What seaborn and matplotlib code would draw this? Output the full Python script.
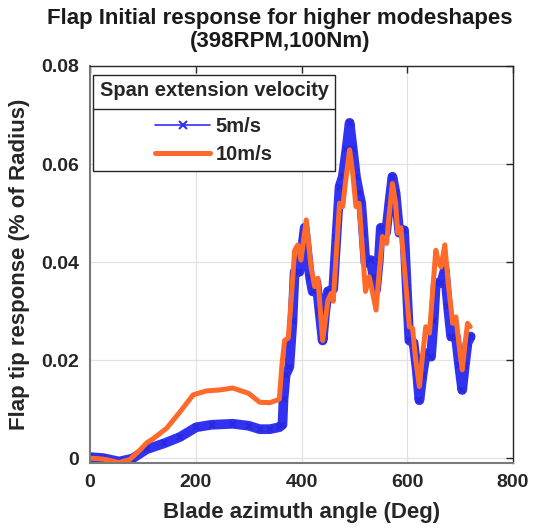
import matplotlib
matplotlib.use("Agg")
import matplotlib.pyplot as plt
from matplotlib.lines import Line2D
import seaborn as sns
import pandas as pd

# ---- data ----
deg_5 = [0, 25, 55, 80, 107, 140, 170, 201, 230, 270, 300, 321, 340, 358, 364,
         366, 370, 377, 383, 387, 396, 406, 416, 421, 428, 434, 440, 445, 450, 460,
         466, 472, 478, 485, 491, 497, 503, 509, 513, 517, 521, 531, 536, 541, 546,
         550, 560, 566, 572, 578, 585, 594, 599, 604, 612, 618, 623, 629, 635, 645,
         650, 654, 664, 671, 677, 683, 692, 698, 704, 709, 714, 720]
resp_5 = [0.0002, 0.0000, -0.0007, -0.0001, 0.0018, 0.0030, 0.0043, 0.0063, 0.0068, 0.0070,
          0.0066, 0.0059, 0.0059, 0.0063, 0.0068,
          0.0120, 0.0170, 0.0186, 0.0280, 0.0380, 0.0380, 0.0470, 0.0370, 0.0340, 0.0360,
          0.0300, 0.0240, 0.0300, 0.0340, 0.0345,
          0.0450, 0.0554, 0.0574, 0.0630, 0.0684, 0.0630, 0.0574, 0.0540, 0.0520, 0.0460,
          0.0398, 0.0404, 0.0370, 0.0343, 0.0400,
          0.0470, 0.0460, 0.0520, 0.0574, 0.0540, 0.0460, 0.0465, 0.0350, 0.0240, 0.0235,
          0.0180, 0.0118, 0.0170, 0.0214, 0.0207,
          0.0280, 0.0357, 0.0357, 0.0384, 0.0310, 0.0248, 0.0248, 0.0190, 0.0139, 0.0190,
          0.0235, 0.0248]

deg_10 = [0, 25, 55, 75, 94, 107, 120, 145, 170, 195, 220, 245, 270, 300, 321, 340, 358,
          363, 368, 375, 381, 387, 393, 399, 409, 418, 425, 431, 440, 450, 456, 460,
          466, 472, 478, 484, 491, 497, 503, 509, 515, 521, 528, 534, 541, 547, 553,
          561, 566, 572, 578, 582, 588, 596, 604, 610, 616, 623, 629, 635, 642, 648,
          654, 659, 664, 671, 678, 686, 692, 698, 704, 709, 714, 719]
resp_10 = [0.0000, -0.0002, -0.0009, -0.0003, 0.0016, 0.0031, 0.0040, 0.0061, 0.0094, 0.0129,
           0.0137, 0.0139, 0.0143, 0.0132, 0.0114, 0.0113, 0.0120,
           0.0190, 0.0240, 0.0245, 0.0330, 0.0424, 0.0435, 0.0404, 0.0486, 0.0390, 0.0350,
           0.0367, 0.0240, 0.0322, 0.0336, 0.0320,
           0.0420, 0.0520, 0.0513, 0.0570, 0.0629, 0.0580, 0.0513, 0.0520, 0.0430, 0.0340,
           0.0370, 0.0340, 0.0302, 0.0380, 0.0452,
           0.0438, 0.0500, 0.0560, 0.0520, 0.0459, 0.0470, 0.0370, 0.0268, 0.0265, 0.0200,
           0.0146, 0.0210, 0.0268, 0.0255, 0.0340,
           0.0424, 0.0400, 0.0390, 0.0435, 0.0350, 0.0275, 0.0288, 0.0230, 0.0180, 0.0230,
           0.0275, 0.0268]

series_labels = ["5m/s", "10m/s"]
legend_title = "Span extension velocity"
title_lines = "Flap Initial response for higher modeshapes\n(398RPM,100Nm)"
x_label = "Blade azimuth angle (Deg)"
y_label = "Flap tip response (% of Radius)"
x_ticks = [0, 200, 400, 600, 800]
y_ticks = [0, 0.02, 0.04, 0.06, 0.08]
y_tick_labels = ["0", "0.02", "0.04", "0.06", "0.08"]

BLUE = "#3232F0"
ORANGE = "#FF6A2A"

df5 = pd.DataFrame({"deg": deg_5, "resp": resp_5, "v": series_labels[0]})
df10 = pd.DataFrame({"deg": deg_10, "resp": resp_10, "v": series_labels[1]})

sns.set_theme(style="white")
plt.rcParams["font.family"] = ["Liberation Sans", "DejaVu Sans"]
plt.rcParams["font.weight"] = "bold"

fig = plt.figure(figsize=(5.55, 5.32), dpi=100)
ax = fig.add_axes([90 / 555, 69 / 532, 423 / 555, 397 / 532])

sns.lineplot(data=df5, x="deg", y="resp", ax=ax, color=BLUE, linewidth=7,
             marker="x", markersize=5, markeredgewidth=1.5, markeredgecolor="#2828E0",
             estimator=None, sort=False, legend=False)
sns.lineplot(data=df10, x="deg", y="resp", ax=ax, color=ORANGE, linewidth=3.6,
             estimator=None, sort=False, legend=False)
for ln in ax.get_lines():
    ln.set_solid_joinstyle("round")
    ln.set_solid_capstyle("round")

ax.set_xlim(0, 800)
ax.set_ylim(-0.001, 0.08)
ax.set_xticks(x_ticks)
ax.set_yticks(y_ticks)
ax.set_yticklabels(y_tick_labels)
ax.tick_params(axis="both", which="major", labelsize=14, direction="in", length=5,
               width=1, top=True, right=True, colors="#262626", pad=8)
for lab in ax.get_xticklabels() + ax.get_yticklabels():
    lab.set_fontweight("bold")
ax.grid(True, color="#e2e2e2", linewidth=0.9)
for side in ["top", "right"]:
    ax.spines[side].set_color("#262626")
    ax.spines[side].set_linewidth(1)
for side in ["left", "bottom"]:
    ax.spines[side].set_color("#7a7a7a")
    ax.spines[side].set_linewidth(1.5)

ax.set_xlabel(x_label, fontsize=16, fontweight="bold", color="#262626", labelpad=8)
ax.set_ylabel(y_label, fontsize=16, fontweight="bold", color="#262626", labelpad=8)

fig.text(280 / 555, 1 - 8 / 532, title_lines, ha="center", va="top", fontsize=16,
         fontweight="bold", color="#1a1a1a", linespacing=1.15)

handles = [Line2D([], [], color=BLUE, linewidth=1.2, marker="x", markersize=6,
                  markeredgewidth=1.5),
           Line2D([], [], color=ORANGE, linewidth=3.6)]
leg = ax.legend(handles, series_labels, title=legend_title, loc="upper left",
                bbox_to_anchor=(0.007, 0.978), borderaxespad=0, fontsize=14.5,
                title_fontproperties={"weight": "bold", "size": 14.5},
                prop={"weight": "bold", "size": 14.5}, frameon=True, fancybox=False,
                edgecolor="#262626", handlelength=2.7, handletextpad=0.3,
                labelspacing=0.45, borderpad=0.33)
leg.get_frame().set_linewidth(1)
leg.get_frame().set_alpha(1)
# larger gap between the legend title and its entries
leg._legend_box.sep = 12

fig.canvas.draw()
r = fig.canvas.get_renderer()
fb = leg.get_frame().get_window_extent(r)
tb = leg.get_title().get_window_extent(r)
hb = leg.get_texts()[0].get_window_extent(r)
ysep = (tb.y0 + hb.y1) / 2
fig.add_artist(Line2D([fb.x0 / fig.bbox.width, fb.x1 / fig.bbox.width],
                      [ysep / fig.bbox.height, ysep / fig.bbox.height],
                      transform=fig.transFigure, color="#262626", linewidth=1))

fig.savefig("out.png", dpi=100)
